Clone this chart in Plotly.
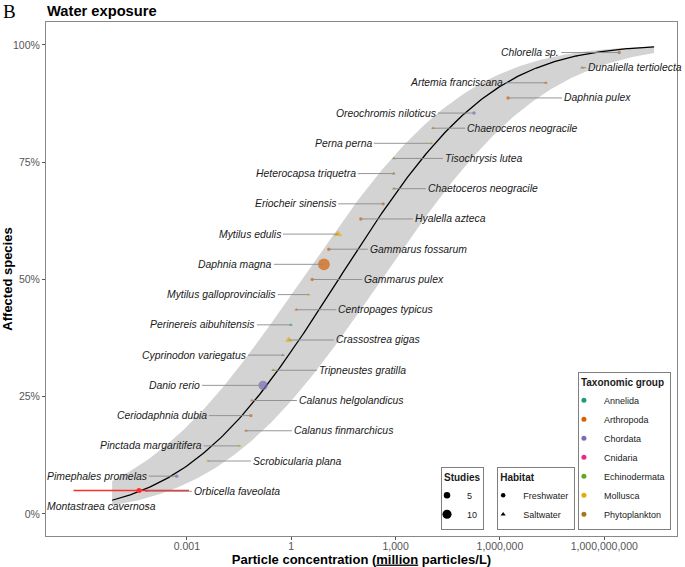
import math
import numpy as np
import plotly.graph_objects as go

# ---------------- data ----------------
species = [
    "Montastraea cavernosa", "Orbicella faveolata", "Pimephales promelas",
    "Scrobicularia plana", "Pinctada margaritifera", "Calanus finmarchicus",
    "Ceriodaphnia dubia", "Calanus helgolandicus", "Danio rerio",
    "Tripneustes gratilla", "Cyprinodon variegatus", "Crassostrea gigas",
    "Perinereis aibuhitensis", "Centropages typicus", "Mytilus galloprovincialis",
    "Gammarus pulex", "Daphnia magna", "Gammarus fossarum", "Mytilus edulis",
    "Hyalella azteca", "Eriocheir sinensis", "Chaetoceros neogracile",
    "Heterocapsa triquetra", "Tisochrysis lutea", "Perna perna",
    "Chaeroceros neogracile", "Oreochromis niloticus", "Daphnia pulex",
    "Artemia franciscana", "Dunaliella tertiolecta", "Chlorella sp.",
]
# effect concentration, million particles / L
concentration = [
    7.1e-5, 7.1e-5, 5.1e-4, 4.0e-3, 0.033, 0.050, 0.069, 0.074, 0.155,
    0.30, 0.58, 0.85, 0.98, 1.4, 3.2, 4.0, 8.7, 12, 22, 100, 440,
    890, 890, 890, 1.1e4, 1.2e4, 1.8e5, 1.7e6, 2.1e7, 2.3e8, 2.7e9,
]
group = [
    "Cnidaria", "Cnidaria", "Chordata", "Mollusca", "Mollusca", "Arthropoda",
    "Arthropoda", "Arthropoda", "Chordata", "Echinodermata", "Chordata",
    "Mollusca", "Annelida", "Arthropoda", "Mollusca", "Arthropoda",
    "Arthropoda", "Arthropoda", "Mollusca", "Arthropoda", "Arthropoda",
    "Phytoplankton", "Phytoplankton", "Phytoplankton", "Mollusca",
    "Phytoplankton", "Chordata", "Arthropoda", "Arthropoda", "Phytoplankton",
    "Phytoplankton",
]
habitat = [
    "Saltwater", "Saltwater", "Freshwater", "Saltwater", "Saltwater", "Saltwater",
    "Freshwater", "Saltwater", "Freshwater", "Saltwater", "Saltwater",
    "Saltwater", "Saltwater", "Saltwater", "Saltwater", "Freshwater",
    "Freshwater", "Freshwater", "Saltwater", "Freshwater", "Freshwater",
    "Saltwater", "Saltwater", "Saltwater", "Saltwater", "Saltwater",
    "Freshwater", "Freshwater", "Saltwater", "Saltwater", "Freshwater",
]
studies = [1, 1, 1, 1, 1, 1, 1, 1, 8, 1, 1, 4, 1, 1, 1, 1, 13, 1, 5,
           1, 1, 1, 1, 1, 1, 1, 1, 1, 1, 1, 1]

# HC5 estimate with its confidence interval (million particles / L)
hc5 = 4.2e-5
hc5_ci = [5.5e-7, 1.15e-3]
hc5_level = 0.05
# confidence band of the fitted SSD (log10 mean, log10 sd of band edges)
band_mu = [0.3, 2.6]
band_sd = [3.7, 3.7]

taxa = ["Annelida", "Arthropoda", "Chordata", "Cnidaria", "Echinodermata",
        "Mollusca", "Phytoplankton"]
study_breaks = [5, 10]
habitats = ["Freshwater", "Saltwater"]
x_tickvals = [1e-3, 1, 1e3, 1e6, 1e9]
x_ticktext = ["0.001", "1", "1,000", "1,000,000", "1,000,000,000"]
y_tickvals = [0, 0.25, 0.5, 0.75, 1.0]
y_ticktext = ["0%", "25%", "50%", "75%", "100%"]

# ---------------- styling ----------------
tax_colors = {"Annelida": "#1b9e77", "Arthropoda": "#d95f02", "Chordata": "#7570b3",
              "Cnidaria": "#e7298a", "Echinodermata": "#66a61e",
              "Mollusca": "#e6ab02", "Phytoplankton": "#a6761d"}
hab_symbol = {"Freshwater": "circle", "Saltwater": "triangle-up"}
FONT = "Liberation Sans, Arial, sans-serif"
# label offsets in px and the side of the label that touches the leader line
label_dx = [11, 45, -28, 43, -36, 46, -42, 45, -61, 44, -35, 45, -34, 40,
            -31, 50, -50, 39, -55, 52, -45, 32, -36, 49, -58, 32, -36, 54,
            -41, 4, -58]
label_anchor = ["right", "left", "right", "left", "right", "left", "right", "left",
                "right", "left", "right", "left", "right", "left", "right", "left",
                "right", "left", "right", "left", "right", "left", "right", "left",
                "right", "left", "right", "left", "right", "left", "right"]


def size_px(n):
    return 0.2 + 3.2 * math.sqrt(n)


def phi(z):
    return 0.5 * (1.0 + np.vectorize(math.erf)(np.asarray(z) / math.sqrt(2.0)))


# ---------------- derived values ----------------
logc = np.log10(np.array(concentration, dtype=float))
order = np.argsort(logc, kind="stable")
n = len(logc)
frac = np.empty(n)
frac[order] = (np.arange(n) + 0.5) / n

mu = logc.mean()
sd = logc.std(ddof=1)
xs = np.linspace(logc.min() - 1, logc.max() + 1, 300)
fit = phi((xs - mu) / sd)
band_hi = phi((xs - band_mu[0]) / band_sd[0])
band_lo = phi((xs - band_mu[1]) / band_sd[1])

fig = go.Figure()

fig.add_trace(go.Scatter(x=10 ** xs, y=band_lo, mode="lines", line=dict(width=0),
                         hoverinfo="skip", showlegend=False))
fig.add_trace(go.Scatter(x=10 ** xs, y=band_hi, mode="lines", line=dict(width=0),
                         fill="tonexty", fillcolor="#d3d3d3", hoverinfo="skip",
                         showlegend=False))
fig.add_trace(go.Scatter(x=10 ** xs, y=fit, mode="lines",
                         line=dict(color="black", width=1.3), showlegend=False))

for t in taxa:
    idx = [i for i in range(n) if group[i] == t]
    fig.add_trace(go.Scatter(
        x=[concentration[i] for i in idx], y=[frac[i] for i in idx],
        mode="markers", showlegend=False,
        text=[species[i] for i in idx],
        marker=dict(color=tax_colors[t],
                    symbol=[hab_symbol[habitat[i]] for i in idx],
                    size=[size_px(studies[i]) for i in idx],
                    line=dict(width=0))))

# HC5 with CI
fig.add_trace(go.Scatter(x=hc5_ci, y=[hc5_level, hc5_level], mode="lines",
                         line=dict(color="#ff2a2a", width=1.5), showlegend=False))
fig.add_trace(go.Scatter(x=[hc5], y=[hc5_level], mode="markers",
                         marker=dict(color="#ff2a2a", size=5), showlegend=False))

# legend-only traces
for b in study_breaks:
    fig.add_trace(go.Scatter(x=[None], y=[None], mode="markers", name=str(b),
                             marker=dict(color="black", size=size_px(b) * 0.88),
                             legend="legend"))
for h in habitats:
    fig.add_trace(go.Scatter(x=[None], y=[None], mode="markers", name=h,
                             marker=dict(color="black", symbol=hab_symbol[h], size=4.5),
                             legend="legend2"))
for t in taxa:
    fig.add_trace(go.Scatter(x=[None], y=[None], mode="markers", name=t,
                             marker=dict(color=tax_colors[t], size=5),
                             legend="legend3"))

# species labels
annotations = []
for i in range(n):
    annotations.append(dict(
        x=logc[i], y=frac[i], xref="x", yref="y",
        text="<i>%s</i>" % species[i], showarrow=True, arrowhead=0,
        arrowwidth=0.9, arrowcolor="#8a8a8a", ax=label_dx[i], ay=0, standoff=0,
        xanchor=label_anchor[i], yanchor="middle",
        font=dict(family=FONT, size=10.4, color="#1a1a1a")))

annotations.append(dict(x=0.0, y=1.0, xref="paper", yref="paper", xshift=-1, yshift=1,
                        text="Water exposure", showarrow=False, xanchor="left",
                        yanchor="bottom",
                        font=dict(family=FONT, size=14.7, color="black", weight="bold")))
annotations.append(dict(x=0.0, y=1.0, xref="paper", yref="paper", xshift=-45, yshift=-2,
                        text="B", showarrow=False, xanchor="left", yanchor="bottom",
                        font=dict(family="Liberation Serif, Times New Roman, serif",
                                  size=19, color="black")))

leg_common = dict(bgcolor="white", bordercolor="#7f7f7f", borderwidth=1,
                  yanchor="bottom", xanchor="left", indentation=-15,
                  traceorder="normal",
                  font=dict(family=FONT, size=9, color="#1a1a1a"),
                  itemclick=False, itemdoubleclick=False)

fig.update_layout(
    width=685, height=567,
    margin=dict(l=46, r=8, t=22, b=31, autoexpand=False),
    paper_bgcolor="white", plot_bgcolor="white",
    font=dict(family=FONT),
    annotations=annotations,
    legend=dict(x=0.626, y=0.012, title=dict(text="<b>Studies</b>",
                                              font=dict(size=10)), **leg_common),
    legend2=dict(x=0.715, y=0.012, title=dict(text="<b>Habitat</b>",
                                               font=dict(size=10)), **leg_common),
    legend3=dict(x=0.843, y=0.012, title=dict(text="<b>Taxonomic group</b>",
                                               font=dict(size=10)), **leg_common),
    xaxis=dict(type="log", range=[-7.05, 11.09], tickvals=x_tickvals,
               ticktext=x_ticktext, ticks="outside", ticklen=3, tickcolor="#555",
               tickfont=dict(family=FONT, size=10.5, color="#555"),
               ticklabelstandoff=-3,
               showline=True, linecolor="#888", linewidth=1, mirror=True,
               showgrid=False, zeroline=False, automargin=False,
               title=dict(text="Particle concentration (<u>million</u> particles/L)",
                          font=dict(family=FONT, size=13, color="black", weight="bold"),
                          standoff=0)),
    yaxis=dict(range=[-0.047, 1.049], tickvals=y_tickvals, ticktext=y_ticktext,
               ticks="outside", ticklen=3, tickcolor="#555",
               tickfont=dict(family=FONT, size=10.5, color="#555"),
               showline=True, linecolor="#888", linewidth=1, mirror=True,
               showgrid=False, zeroline=False, automargin=False,
               title=dict(text="Affected species",
                          font=dict(family=FONT, size=13, color="black", weight="bold"),
                          standoff=4)),
)

fig.write_html("out.html", config={"displayModeBar": False},
               post_script="document.body.style.margin='0';")
